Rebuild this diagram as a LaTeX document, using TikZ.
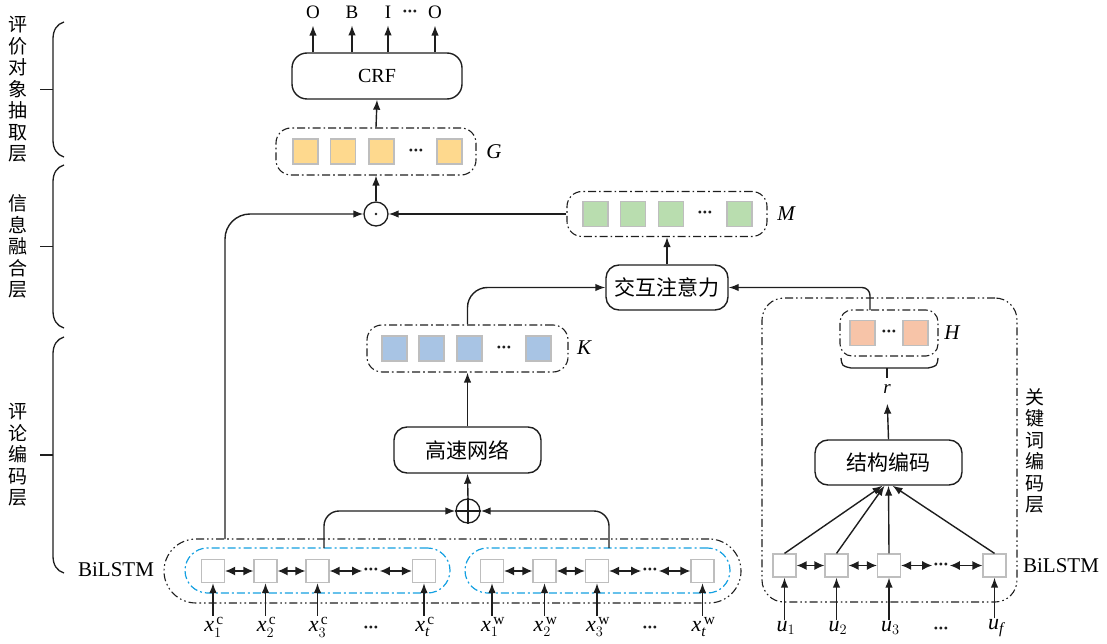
\documentclass[tikz,border=0pt]{standalone}
\usepackage{amsmath}
\usepackage{fontspec}
\setmainfont{Liberation Serif}
\newfontfamily\cjk{Noto Sans CJK SC}
\usetikzlibrary{arrows.meta,calc}

\definecolor{cellgray}{RGB}{190,190,190}
\definecolor{fillY}{RGB}{254,217,142}
\definecolor{fillG}{RGB}{185,221,175}
\definecolor{fillB}{RGB}{168,196,228}
\definecolor{fillP}{RGB}{247,196,168}
\definecolor{dashblue}{RGB}{20,160,225}
\definecolor{ink}{RGB}{30,30,30}

% three bold dots
\newcommand{\tdots}{\textbullet\kern0.8pt\textbullet\kern0.8pt\textbullet}

\tikzset{
  lw/.style={line width=1.4pt, draw=ink},
  arr/.style={lw, -{Latex[length=10pt,width=7.5pt]}},
  darr/.style={lw, {Latex[length=10pt,width=9pt]}-{Latex[length=10pt,width=9pt]}},
  blk/.style={draw=ink, line width=1.4pt, rounded corners=13pt, inner sep=0pt,
    font=\cjk\fontsize{21}{21}\selectfont},
  grp/.style={draw=ink, line width=1.1pt, rounded corners=15pt, inner sep=0pt,
    dash pattern=on 8pt off 3pt on 1.6pt off 3pt},
  grp2/.style={draw=ink, line width=1.1pt, inner sep=0pt,
    dash pattern=on 8pt off 3pt on 1.6pt off 3pt on 1.6pt off 3pt},
  bluegrp/.style={draw=dashblue, line width=1.2pt, rounded corners=22.5pt, inner sep=0pt,
    minimum width=265pt, minimum height=45pt,
    dash pattern=on 8pt off 3pt on 2pt off 3pt},
  sq/.style={draw=cellgray, line width=1.2pt, minimum size=25pt, inner sep=0pt, fill=#1},
  bsq/.style={draw=cellgray, line width=1.2pt, minimum size=23pt, inner sep=0pt, fill=white},
  dts/.style={inner sep=1.5pt, font=\rmfamily\fontsize{12}{12}\selectfont, text=ink},
  mlab/.style={font=\rmfamily\fontsize{21}{21}\selectfont\itshape, inner sep=0pt},
  ilab/.style={font=\rmfamily\fontsize{22}{22}\selectfont, inner sep=1pt},
  vlab/.style={font=\cjk\fontsize{19}{21.5}\selectfont, align=center, inner sep=0pt},
  tlab/.style={font=\rmfamily\fontsize{21}{21}\selectfont, inner sep=0pt},
  brc/.style={line width=1.3pt, draw=ink},
}

\begin{document}
\begin{tikzpicture}[x=1pt,y=-1pt]
\useasboundingbox (0,0) rectangle (1107,644);

% ---------- layer braces on the left
\foreach \t/\b in {22/157,165/328,337/573}{
  \pgfmathsetmacro{\m}{(\t+\b)/2}
  \draw[brc] (64,\t) .. controls (57,\t+2) and (53,\t+8) .. (53,\t+17)
     -- (53,\b-17) .. controls (53,\b-8) and (57,\b-2) .. (64,\b);
  \draw[brc] (40,\m) -- (53,\m);
}
\node[vlab] (layA) at (18,89.5) {评\\价\\对\\象\\抽\\取\\层};
\node[vlab] (layB) at (18,246.5) {信\\息\\融\\合\\层};
\node[vlab] (layC) at (18,455) {评\\论\\编\\码\\层};

% ---------- CRF and tag outputs
\node[blk, minimum width=170pt, minimum height=46pt, rounded corners=15pt,
  font=\rmfamily\fontsize{20}{20}\selectfont] (crf) at (377,76) {CRF};
\foreach \n/\x/\s in {o1/313/O,o2/352/B,o3/388/I,o4/435/O}
  \node[font=\rmfamily\fontsize{19}{19}\selectfont, inner sep=1pt] (\n) at (\x,12) {\s};
\node[dts] (od) at (410,13) {\tdots};
\foreach \n in {o1,o2,o3,o4}
  \draw[arr, shorten >=6pt] (crf.north -| \n) -- (\n.south);

% ---------- G
\node[grp, minimum width=200pt, minimum height=47pt] (G) at (376,151.5) {};
\foreach \i/\x in {1/305.5,2/343,3/381.5,4/449.5}
  \node[sq=fillY] (g\i) at (\x,151.5) {};
\node[dts] (gd) at (416,151.5) {\tdots};
\node[mlab] (Glab) at (494,152) {G};
\draw[arr] (G.north) -- (crf.south);

% ---------- element-wise product
\node[circle, draw=ink, line width=1.3pt, minimum size=24pt, inner sep=0pt] (dot) at (376,214) {};
\fill[ink] (dot.center) circle (1.4pt);
\draw[arr] (dot.north) -- (G.south);

% ---------- M
\node[grp, minimum width=200pt, minimum height=45pt] (M) at (667,214) {};
\foreach \i/\x in {1/595.5,2/633,3/671,4/739.5}
  \node[sq=fillG] (m\i) at (\x,214) {};
\node[dts] (md) at (705,214) {\tdots};
\node[mlab] (Mlab) at (786,214) {M};
\draw[arr] (M.west) -- (dot.east);

% ---------- interactive attention
\node[blk, minimum width=122pt, minimum height=45pt] (att) at (667,287.5) {交互注意力};
\draw[arr] (att.north) -- (M.south);

% ---------- K
\node[grp, minimum width=201pt, minimum height=47pt] (K) at (467.5,348.5) {};
\foreach \i/\x in {1/394.5,2/431.5,3/469.5,4/538.5}
  \node[sq=fillB] (k\i) at (\x,348.5) {};
\node[dts] (kd) at (504,348.5) {\tdots};
\node[mlab] (Klab) at (584,348) {K};
\draw[arr, rounded corners=20pt] (K.north) |- (att.west);

% ---------- highway network
\node[blk, minimum width=147pt, minimum height=46pt] (hw) at (467.5,450) {高速网络};
\draw[arr] (hw.north) -- (K.south);

% ---------- concatenation
\node[circle, draw=ink, line width=1.3pt, minimum size=24pt, inner sep=0pt] (sum) at (468,511) {};
\draw[lw] (sum.north) -- (sum.south) (sum.west) -- (sum.east);
\draw[arr] (sum.north) -- (hw.south);

% ---------- review BiLSTM
\node[grp2, rounded corners=32pt, minimum width=577pt, minimum height=64pt] (rev) at (452.5,571) {};
\node[bluegrp] (cgrp) at (317.5,570.5) {};
\node[bluegrp] (wgrp) at (597.5,570.5) {};
\node[tlab] (blA) at (116,570) {BiLSTM};

\foreach \i/\x in {1/213,2/265.5,3/317.5,4/424}
  \node[bsq] (c\i) at (\x,571) {};
\node[dts] (cd) at (371,571) {\tdots};
\foreach \i/\x in {1/492,2/544.5,3/597,4/702.5}
  \node[bsq] (w\i) at (\x,571) {};
\node[dts] (wd) at (650,571) {\tdots};

\foreach \p in {c,w}{
  \draw[darr] (\p1) -- (\p2);
  \draw[darr] (\p2) -- (\p3);
  \draw[darr] (\p3) -- (\p d);
  \draw[darr] (\p d) -- (\p4);
}

\node[ilab] (xc1) at (214,627) {$\mathit{x}_{1}^{\,\mathrm{c}}$};
\node[ilab] (xc2) at (266.5,627) {$\mathit{x}_{2}^{\,\mathrm{c}}$};
\node[ilab] (xc3) at (318.5,627) {$\mathit{x}_{3}^{\,\mathrm{c}}$};
\node[ilab] (xc4) at (425,627) {$\mathit{x}_{\mathit{t}}^{\,\mathrm{c}}$};
\node[dts] (xcd) at (371,629) {\tdots};
\node[ilab] (xw1) at (493,627) {$\mathit{x}_{1}^{\,\mathrm{w}}$};
\node[ilab] (xw2) at (545.5,627) {$\mathit{x}_{2}^{\,\mathrm{w}}$};
\node[ilab] (xw3) at (598,627) {$\mathit{x}_{3}^{\,\mathrm{w}}$};
\node[ilab] (xw4) at (703.5,627) {$\mathit{x}_{\mathit{t}}^{\,\mathrm{w}}$};
\node[dts] (xwd) at (650,629) {\tdots};
\foreach \p in {c,w}
  \foreach \i in {1,2,3,4}
    \draw[arr] (x\p\i.north -| \p\i) -- (\p\i.south);

% taps feeding the fusion and the highway input
\coordinate (tapL) at (225,539);
\coordinate (tapC) at (324,548);
\coordinate (tapW) at (609,548);
\draw[arr, rounded corners=25pt] (tapL) |- (dot.west);
\draw[arr, rounded corners=15pt] (tapC) |- (sum.west);
\draw[arr, rounded corners=15pt] (tapW) |- (sum.east);

% ---------- keyword encoding layer
\node[grp2, rounded corners=22pt, minimum width=255pt, minimum height=304pt] (kw) at (889.5,450) {};
\node[vlab] (kwlab) at (1035,451) {关\\键\\词\\编\\码\\层};

\node[grp, rounded corners=12pt, minimum width=98pt, minimum height=46pt] (H) at (889,333) {};
\node[sq=fillP] (h1) at (862.5,333) {};
\node[sq=fillP] (h2) at (915.5,333) {};
\node[dts] (hd) at (889,333) {\tdots};
\node[mlab] (Hlab) at (952,333) {H};
\draw[brc] (841,358) .. controls (842,366) .. (851,368) -- (928,368)
   .. controls (937,366) .. (938,358);
\draw[brc] (887,368) -- (887,378);
\node[mlab, font=\rmfamily\fontsize{19}{19}\selectfont\itshape] (r) at (887,389) {r};

\coordinate (tapH) at (870,310);
\draw[arr, rounded corners=8pt] (tapH) |- (att.east);

\node[blk, minimum width=147pt, minimum height=45pt] (enc) at (888.5,462.5) {结构编码};
\draw[arr, shorten >=10pt] (enc.north) -- (r.south);

\foreach \i/\x in {1/784.5,2/836.5,3/889,4/994.5}
  \node[bsq] (u\i) at (\x,565.5) {};
\node[dts] (ud) at (941,565.5) {\tdots};
\draw[darr] (u1) -- (u2);
\draw[darr] (u2) -- (u3);
\draw[darr] (u3) -- (ud);
\draw[darr] (ud) -- (u4);
\node[tlab] (blB) at (1061,566) {BiLSTM};

\draw[arr] (u1.north) -- ($(enc.south)+(-6,0)$);
\draw[arr] (u2.north) -- ($(enc.south)+(-4,0)$);
\draw[arr] (u3.north) -- (enc.south);
\draw[arr] (u4.north) -- ($(enc.south)+(4,0)$);

\node[ilab] (uu1) at (786,628) {$\mathit{u}_{1}$};
\node[ilab] (uu2) at (838,628) {$\mathit{u}_{2}$};
\node[ilab] (uu3) at (890.5,628) {$\mathit{u}_{3}$};
\node[ilab] (uu4) at (996,628) {$\mathit{u}_{\mathit{f}}$};
\node[dts] (uud) at (941,630) {\tdots};
\foreach \i in {1,2,3,4}
  \draw[arr] (uu\i.north -| u\i) -- (u\i.south);
\end{tikzpicture}
\end{document}
